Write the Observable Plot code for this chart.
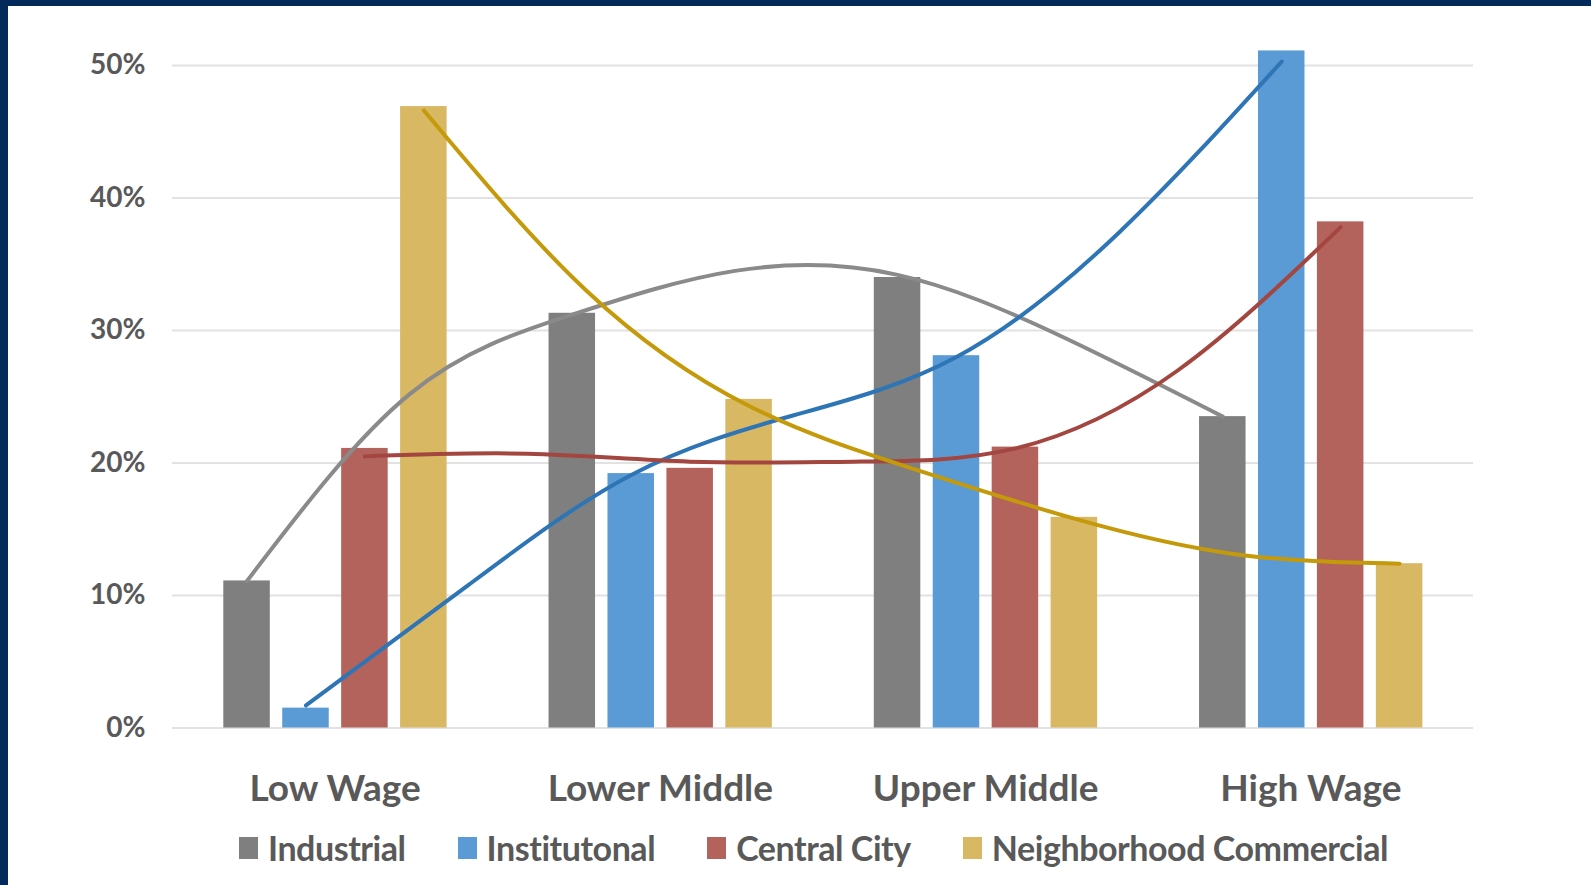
<!DOCTYPE html>
<html><head><meta charset="utf-8">
<script src="https://cdn.jsdelivr.net/npm/d3@7"></script>
<script src="https://cdn.jsdelivr.net/npm/@observablehq/plot@0.6"></script>
<style>
html,body{margin:0;padding:0;background:#fff;width:1591px;height:885px;overflow:hidden;font-family:Lato,sans-serif}
#frameTop{position:absolute;left:0;top:0;width:1591px;height:6px;background:#032a5b;z-index:5}
#frameLeft{position:absolute;left:0;top:0;width:8px;height:885px;background:#032a5b;z-index:5}
#chart{position:absolute;left:0;top:0}
#legend{position:absolute;left:239px;top:828px;display:flex;align-items:center;font-weight:bold;font-size:34px;font-family:Lato,sans-serif;color:#595959;line-height:40px;white-space:nowrap;letter-spacing:-0.45px}
.item{display:flex;align-items:center;margin-right:52px}
.sw{width:19px;height:22px;margin-right:10px;flex:none}
</style></head>
<body>
<div id="chart"></div>
<div id="legend"></div>
<div id="frameTop"></div><div id="frameLeft"></div>
<script>
// ---- data ----
const groups = ["Low Wage", "Lower Middle", "Upper Middle", "High Wage"];
const seriesNames = ["Industrial", "Institutonal", "Central City", "Neighborhood Commercial"];
const industrial = [11.1, 31.3, 34.0, 23.5];
const institutional = [1.5, 19.2, 28.1, 51.1];
const centralCity = [21.1, 19.6, 21.2, 38.2];
const neighborhoodCommercial = [46.9, 24.8, 15.9, 12.4];
const yTicks = [0, 10, 20, 30, 40, 50];
// trend lines at half-group steps
const trendSteps = [0, 0.5, 1, 1.5, 2, 2.5, 3];
const trendIndustrial = [11.1, 25.2, 31.2, 34.5, 34.2, 29.6, 23.5];
const trendInstitutional = [1.7, 10.8, 19.1, 23.6, 28.0, 37.4, 50.3];
const trendCentralCity = [20.5, 20.7, 20.1, 20.1, 21.1, 27.0, 37.8];
const trendNeighborhood = [46.6, 33.0, 24.3, 19.6, 15.8, 13.1, 12.4];

// ---- styles ----
const barColors = ["#7f7f7f", "#5b9bd5", "#b3635c", "#d9b864"];
const lineColors = ["#8a8a8a", "#2e75b6", "#a3463f", "#c49a0a"];
const groupPad = 0.1577, barStep = 0.1812, barW = 0.143;

const seriesValues = [industrial, institutional, centralCity, neighborhoodCommercial];
const trendValues = [trendIndustrial, trendInstitutional, trendCentralCity, trendNeighborhood];

const barData = [];
groups.forEach((g, i) => seriesNames.forEach((s, j) => barData.push({group: g, gi: i, series: s, sj: j, value: seriesValues[j][i]})));

const lineMarks = seriesNames.map((s, j) => Plot.line(trendSteps, {
  x: (t) => t + groupPad + j * barStep + barW / 2,
  y: (t, k) => trendValues[j][k],
  stroke: lineColors[j],
  strokeWidth: 4,
  curve: "natural"
}));

const chart = Plot.plot({
  width: 1591,
  height: 815,
  marginLeft: 172,
  marginRight: 118,
  marginTop: 65,
  marginBottom: 87.5,
  x: {domain: [0, groups.length], axis: null},
  y: {domain: [0, 50], axis: null},
  color: {domain: seriesNames, range: barColors},
  style: {fontFamily: "Lato, sans-serif", background: "transparent", color: "#595959", overflow: "visible"},
  marks: [
    Plot.gridY(yTicks, {stroke: "#e2e2e2", strokeOpacity: 1, strokeWidth: 2}),
    Plot.axisY(yTicks, {tickSize: 0, tickPadding: 27, tickFormat: (d) => d + "%", fontSize: 28, fontWeight: "bold", label: null}),
    Plot.rect(barData, {
      x1: (d) => d.gi + groupPad + d.sj * barStep,
      x2: (d) => d.gi + groupPad + d.sj * barStep + barW,
      y1: 0,
      y2: "value",
      fill: "series"
    }),
    ...lineMarks,
    Plot.axisX(groups.map((g, i) => i + 0.5), {tickSize: 0, tickPadding: 47, tickFormat: (d) => groups[Math.floor(d)], fontSize: 37, fontWeight: "bold", label: null})
  ]
});
document.getElementById("chart").appendChild(chart);

const legend = document.getElementById("legend");
seriesNames.forEach((s, j) => {
  const item = document.createElement("div");
  item.className = "item";
  const sw = document.createElement("div");
  sw.className = "sw";
  sw.style.background = barColors[j];
  const label = document.createElement("span");
  label.textContent = s;
  item.appendChild(sw);
  item.appendChild(label);
  legend.appendChild(item);
});
</script>
</body></html>
